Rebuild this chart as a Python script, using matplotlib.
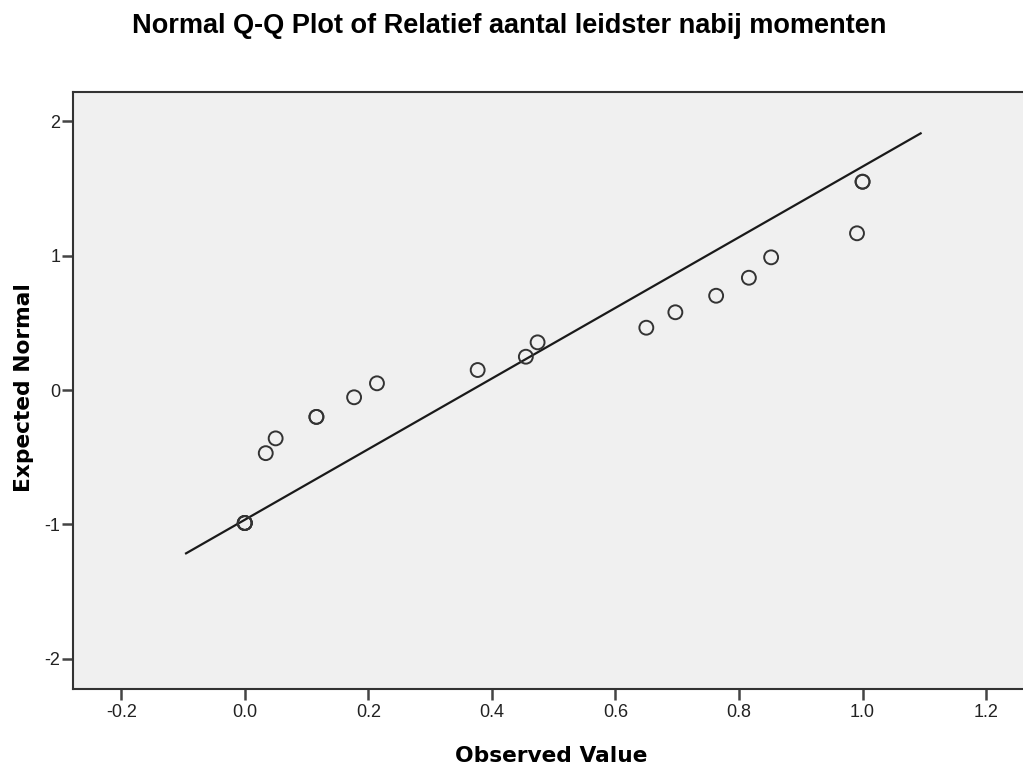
import matplotlib
matplotlib.use("Agg")
import matplotlib.pyplot as plt

plt.rcParams['font.family'] = ['Liberation Sans', 'DejaVu Sans']

# Observed values and expected normal values (ties repeated)
observed = [0.0, 0.0, 0.0, 0.0, 0.034, 0.050, 0.116, 0.116, 0.177, 0.214, 0.377,
            0.455, 0.474, 0.650, 0.697, 0.763, 0.816, 0.852, 0.991, 1.0, 1.0]
expected = [-0.99, -0.99, -0.99, -0.99, -0.47, -0.36, -0.20, -0.20, -0.054, 0.05, 0.149,
            0.248, 0.355, 0.464, 0.579, 0.702, 0.836, 0.988, 1.167, 1.551, 1.551]

# Reference line endpoints
line_x = [-0.095, 1.094]
line_y = [-1.216, 1.911]

xticks = [-0.2, 0.0, 0.2, 0.4, 0.6, 0.8, 1.0, 1.2]
yticks = [-2, -1, 0, 1, 2]

W, H = 1023, 769
fig = plt.figure(figsize=(W/100, H/100), dpi=100)
ax = fig.add_axes([73/W, 1-689/H, 1-73/W + 0.002, (689-92)/H])
ax.set_facecolor('#F0F0F0')

ax.plot(line_x, line_y, color='#1a1a1a', lw=1.6, zorder=2)
ax.scatter(observed, expected, s=100, facecolors='none', edgecolors='#333333',
           linewidths=1.4, zorder=3)

ax.set_xlim(-0.278, 1.263)
ax.set_ylim(-2.226, 2.219)
ax.set_xticks(xticks)
ax.set_xticklabels([f"{t:.1f}" for t in xticks])
ax.set_yticks(yticks)
ax.set_yticklabels([str(t) for t in yticks])

for s in ['left', 'bottom', 'top']:
    ax.spines[s].set_color('#333333')
    ax.spines[s].set_linewidth(1.5)
ax.spines['right'].set_visible(False)
ax.tick_params(axis='both', direction='out', length=8, width=1.8, color='#444444',
               labelsize=13, labelcolor='#222222')
ax.tick_params(axis='x', pad=3)
ax.tick_params(axis='y', pad=1)

fig.text(551/W, 1-762/H, 'Observed Value', ha='center', va='baseline',
         fontsize=15.7, fontweight='bold', family=['DejaVu Sans'])
fig.text(24/W, 1-388/H, 'Expected Normal', ha='center', va='center', rotation=90,
         fontsize=15.7, fontweight='bold', family=['DejaVu Sans'])
fig.text(509.5/W, 1-33/H, 'Normal Q-Q Plot of Relatief aantal leidster nabij momenten',
         ha='center', va='baseline', fontsize=19.5, fontweight='bold')

fig.savefig('out.png', dpi=100)
